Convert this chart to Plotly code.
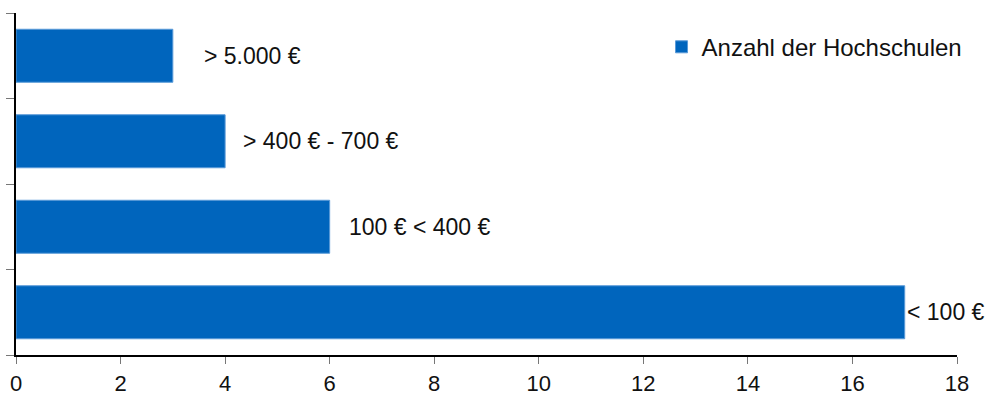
import plotly.graph_objects as go

# Anzahl der Hochschulen je Gebührenklasse (von unten nach oben)
categories = ["< 100 €", "100 € < 400 €", "> 400 € - 700 €", "> 5.000 €"]
counts = [17, 6, 4, 3]
x_ticks = [0, 2, 4, 6, 8, 10, 12, 14, 16, 18]

label_shift = [0, 17, 16, 29]

font = "Liberation Sans, Arial, Helvetica, sans-serif"
blue = "#0065BD"

fig = go.Figure()
fig.add_trace(go.Bar(
    y=categories,
    x=counts,
    orientation="h",
    name="Anzahl der Hochschulen",
    marker=dict(color=blue, line=dict(color="#5a9ad8", width=1)),
    width=0.62,
))

for cat, val, shift in zip(categories, counts, label_shift):
    fig.add_annotation(
        x=val, y=cat, text=cat, showarrow=False,
        xanchor="left", yanchor="middle", xshift=shift,
        font=dict(family=font, size=23, color="#111111"),
    )

fig.update_layout(
    width=987, height=398,
    margin=dict(l=16, r=30, t=13, b=43, autoexpand=False),
    plot_bgcolor="white", paper_bgcolor="white",
    font=dict(family=font, size=23, color="#111111"),
    showlegend=True,
    legend=dict(
        x=0.686, y=0.90, xanchor="left", yanchor="middle",
        bgcolor="rgba(0,0,0,0)", font=dict(size=24),
        itemwidth=30,
    ),
)

fig.update_xaxes(
    range=[0, 18], tickvals=x_ticks, automargin=False,
    showline=True, linecolor="black", linewidth=1.5,
    ticks="outside", ticklen=7, tickcolor="#777777", tickwidth=1,
    ticklabelstandoff=1,
    showgrid=False, zeroline=False,
    tickfont=dict(size=22),
)
fig.update_yaxes(
    type="category", range=[-0.5, 3.5], automargin=False,
    showline=True, linecolor="black", linewidth=1.5,
    ticks="outside", ticklen=8, tickcolor="#777777", tickwidth=1,
    tickson="boundaries", showticklabels=False,
    showgrid=False, zeroline=False,
)

fig.write_html("out.html")
